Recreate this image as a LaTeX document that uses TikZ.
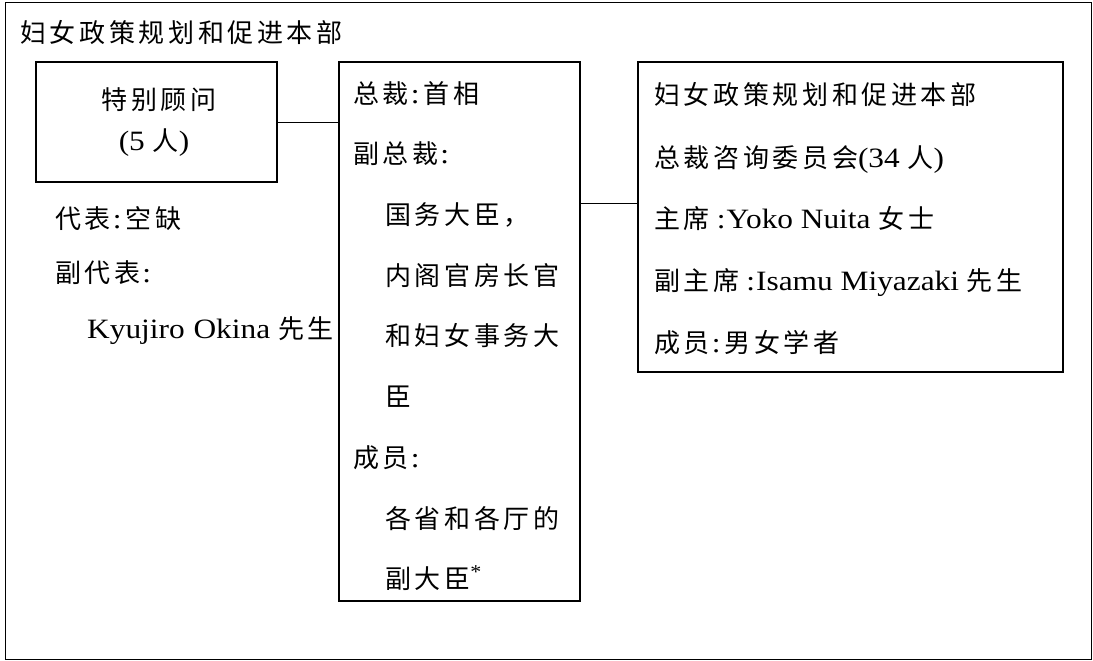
\documentclass[tikz,border=0pt]{standalone}
\usepackage{fontspec}
\setmainfont[FakeStretch=1.12]{Liberation Serif}
\newfontfamily\cjfam[LetterSpace=14]{Noto Sans CJK SC}
\newcommand\zhs[1]{{\fontsize{26}{30}\cjfam #1}}
\newcommand\colo{\hspace{2pt}:\hspace{4pt}}
\newcommand\coloL{\hspace{7pt}:\hspace{1pt}}
\tikzset{
  boxnode/.style={draw, line width=1.1pt, rectangle, inner sep=0pt},
  framenode/.style={draw, line width=1pt, rectangle, inner sep=0pt},
  conn/.style={line width=1pt},
  txt/.style={anchor=base west, inner sep=0pt, font=\fontsize{28}{32}\selectfont},
  ctxt/.style={anchor=base, inner sep=0pt, font=\fontsize{28}{32}\selectfont}
}
\begin{document}
\begin{tikzpicture}[x=1pt,y=-1pt]
\useasboundingbox (0,0) rectangle (1093,661);
% outer frame
\node[framenode, minimum width=1086pt, minimum height=656pt] (frame) at (548,331) {};
\node[txt] (title) at (20,43) {\zhs{妇女政策规划和促进本部}};
% boxes
\node[boxnode, minimum width=241pt, minimum height=120pt] (b1) at (156.5,122) {};
\node[boxnode, minimum width=241pt, minimum height=539pt] (b2) at (459.5,331.5) {};
\node[boxnode, minimum width=425pt, minimum height=310pt] (b3) at (850.5,217) {};
% box 1 text
\node[ctxt] (b1a) at (159,110) {\zhs{特别顾问}};
\node[ctxt] (b1b) at (154,150) {(5 \zhs{人})};
% under box 1
\node[txt] (l1) at (55,228) {\zhs{代表}\colo\zhs{空缺}};
\node[txt] (l2) at (55,282) {\zhs{副代表}\colo};
\node[txt] (l3) at (87,338) {Kyujiro\hspace{1pt} Okina \zhs{先生}};
% box 2 text
\node[txt] (m1) at (353,103) {\zhs{总裁}\colo\zhs{首相}};
\node[txt] (m2) at (353,163) {\zhs{副总裁}\colo};
\node[txt] (m3) at (385,224) {\zhs{国务大臣，}};
\node[txt] (m4) at (385,285) {\zhs{内阁官房长官}};
\node[txt] (m5) at (385,345) {\zhs{和妇女事务大}};
\node[txt] (m6) at (385,406) {\zhs{臣}};
\node[txt] (m7) at (353,467) {\zhs{成员}\colo};
\node[txt] (m8) at (385,528) {\zhs{各省和各厅的}};
\node[txt] (m9) at (385,588) {\zhs{副大臣}\textsuperscript{*}};
% box 3 text
\node[txt] (r1) at (654,105) {\zhs{妇女政策规划和促进本部}};
\node[txt] (r2) at (654,167) {\zhs{总裁咨询委员会}(34 \zhs{人})};
\node[txt] (r3) at (654,228) {\zhs{主席}\coloL Yoko Nuita \zhs{女士}};
\node[txt] (r4) at (654,290) {\zhs{副主席}\coloL Isamu Miyazaki \zhs{先生}};
\node[txt] (r5) at (654,352) {\zhs{成员}\colo\zhs{男女学者}};
% connectors
\coordinate (j2) at (0,203);
\draw[conn] (b1.east) -- (b1.east -| b2.west);
\draw[conn] (b2.east |- j2) -- (b3.west |- j2);
\end{tikzpicture}
\end{document}
